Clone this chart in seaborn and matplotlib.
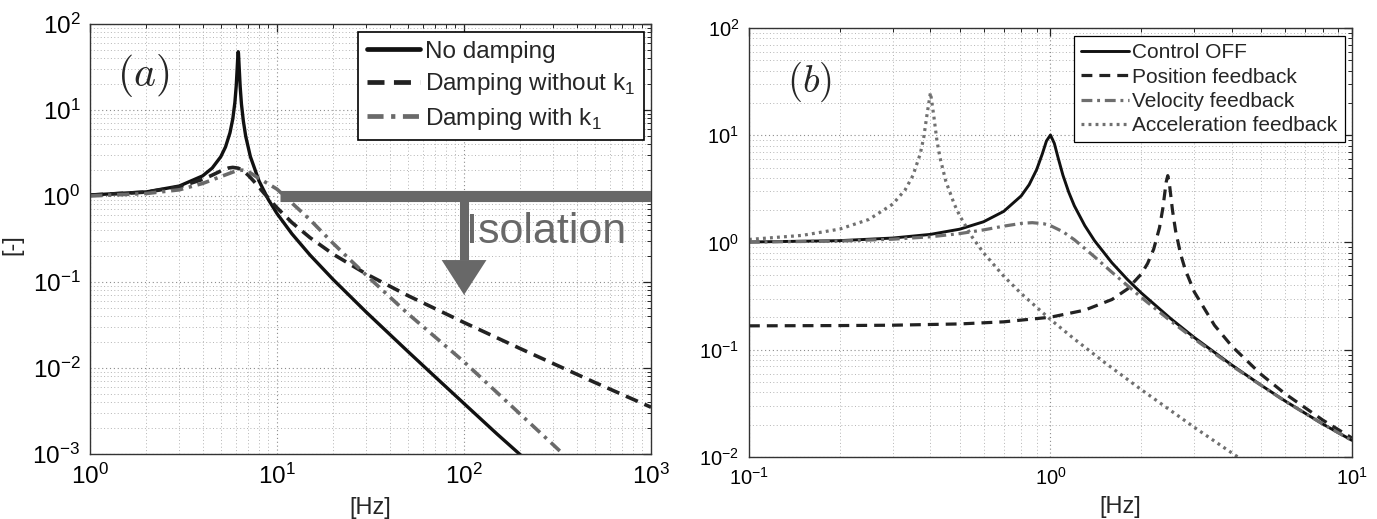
import numpy as np
import pandas as pd
import matplotlib
matplotlib.use("Agg")
import matplotlib.pyplot as plt
import seaborn as sns

# ---------------- data: panel (a) ----------------
f_nodamp = [1, 2, 3, 4, 4.5, 5, 5.3, 5.6, 5.8, 5.95, 6.05, 6.12, 6.18, 6.2, 6.22, 6.28,
            6.35, 6.45, 6.6, 6.8, 7.2, 8, 9, 10, 12, 15, 20, 30, 50, 70, 100, 150, 200, 225]
y_nodamp = [1.027, 1.116, 1.306, 1.713, 2.113, 2.86, 3.713, 5.43, 7.91, 12.27, 19.2, 30.4,
            45.7, 47.6, 45.6, 29.8, 18.7, 11.75, 7.49, 4.93, 2.87, 1.504, 0.903, 0.624, 0.364,
            0.206, 0.1063, 0.0446, 0.01562, 0.00791, 0.00386, 0.001712, 0.00098, 0.00078]

f_dnok = [1, 2, 3, 4, 4.5, 5, 5.5, 5.8, 6.2, 6.6, 7, 7.5, 8, 9, 10, 12, 15, 20, 30, 50,
          100, 200, 500, 1000]
y_dnok = [1.026, 1.11, 1.277, 1.56, 1.748, 1.953, 2.115, 2.15, 2.105, 1.955, 1.751, 1.49,
          1.265, 0.937, 0.728, 0.492, 0.328, 0.21, 0.124, 0.0696, 0.0338, 0.0168, 0.0068,
          0.0035]

f_dk1 = [1, 2, 3, 4, 5, 6, 6.5, 7, 8, 9, 10, 12, 15, 20, 25, 30, 50, 100, 200, 300, 340]
y_dk1 = [1.0, 1.07, 1.18, 1.4, 1.68, 1.95, 2.0, 1.93, 1.6, 1.38, 1.2, 0.83, 0.53, 0.28,
         0.175, 0.12, 0.043, 0.0118, 0.0029, 0.00128, 0.00099]

labels_a = ["No damping", r"Damping without k$_\mathregular{1}$", r"Damping with k$_\mathregular{1}$"]

# isolation arrow annotation
iso_bar_f = [10.4, 1000]
iso_level = 1.0
iso_stem_f = 100
iso_head_top = 0.18
iso_head_tip = 0.071
iso_head_f = [75.9, 131.8]
iso_text = "Isolation"

# ---------------- data: panel (b) ----------------
f_off = [0.1, 0.2, 0.3, 0.4, 0.5, 0.6, 0.7, 0.8, 0.85, 0.9, 0.94, 0.97, 1.0, 1.03, 1.06,
         1.1, 1.15, 1.2, 1.3, 1.4, 1.6, 1.8, 2, 2.5, 3, 4, 5, 6, 8, 10]
y_off = [1.01, 1.04, 1.10, 1.19, 1.33, 1.56, 1.95, 2.72, 3.46, 4.78, 6.71, 8.84, 10.05,
         8.40, 6.18, 4.24, 2.94, 2.2, 1.436, 1.04, 0.646, 0.452, 0.339, 0.196, 0.130,
         0.0718, 0.0466, 0.0333, 0.0203, 0.0143]

f_pos = [0.1, 0.2, 0.3, 0.5, 0.7, 1.0, 1.3, 1.6, 1.8, 2.0, 2.1, 2.2, 2.3, 2.36, 2.42, 2.45,
         2.48, 2.54, 2.6, 2.7, 2.8, 3, 3.5, 4, 5, 6, 8, 10]
y_pos = [0.167, 0.168, 0.1693, 0.174, 0.182, 0.201, 0.234, 0.294, 0.368, 0.507, 0.637,
         0.867, 1.375, 2.094, 3.656, 4.2, 3.55, 1.991, 1.29, 0.786, 0.558, 0.346, 0.169,
         0.1076, 0.0588, 0.0389, 0.0221, 0.01504]

f_vel = [0.1, 0.2, 0.3, 0.4, 0.5, 0.6, 0.7, 0.8, 0.87, 0.95, 1.0, 1.1, 1.2, 1.4, 1.6, 2,
         2.5, 3, 4, 6, 8, 10]
y_vel = [1.0076, 1.031, 1.073, 1.13, 1.21, 1.31, 1.42, 1.506, 1.53, 1.495, 1.436, 1.26,
         1.062, 0.736, 0.527, 0.308, 0.186, 0.126, 0.0706, 0.0331, 0.0203, 0.01425]

f_acc = [0.1, 0.15, 0.2, 0.25, 0.3, 0.33, 0.35, 0.37, 0.38, 0.39, 0.4, 0.41, 0.42, 0.43,
         0.45, 0.48, 0.5, 0.55, 0.6, 0.7, 0.8, 1.0, 1.2, 1.5, 2, 3, 4, 4.2]
y_acc = [1.067, 1.164, 1.333, 1.64, 2.28, 3.11, 4.22, 6.71, 9.56, 15.9, 25.0, 15.36, 9.03,
         6.2, 3.71, 2.27, 1.778, 1.123, 0.8, 0.485, 0.334, 0.1914, 0.1259, 0.0774, 0.0425,
         0.0189, 0.01088, 0.00993]

labels_b = ["Control OFF", "Position feedback", "Velocity feedback", "Acceleration feedback"]

# ---------------- style ----------------
sns.set_style("white")
plt.rcParams['font.family'] = ['Liberation Sans', 'DejaVu Sans']
plt.rcParams['mathtext.fontset'] = 'dejavusans'

fig = plt.figure(figsize=(13.77, 5.19), dpi=100)
ax_a = fig.add_axes([0.0654, 0.1252, 0.4074, 0.8286])
ax_b = fig.add_axes([0.5439, 0.1195, 0.4379, 0.8266])

gray = '#686868'

def style_axis(ax, labelsize):
    ax.set_xscale('log')
    ax.set_yscale('log')
    ax.grid(True, which='major', linestyle=(0, (1, 2.5)), color='#8c8c8c', linewidth=0.8)
    ax.grid(True, which='minor', linestyle=(0, (1, 2.5)), color='#b4b4b4', linewidth=0.7)
    ax.set_axisbelow(True)
    ax.tick_params(which='both', direction='in', top=True, right=True, colors='#222222',
                   labelsize=labelsize, labelcolor='black')
    ax.tick_params(which='major', length=6, width=0.9, pad=7)
    ax.tick_params(which='minor', length=3, width=0.7)
    for s in ax.spines.values():
        s.set_color('#333333')
        s.set_linewidth(1.0)

style_axis(ax_a, 17.5)
style_axis(ax_b, 14.5)

# ---------------- panel (a) ----------------
sns.lineplot(x=f_nodamp, y=y_nodamp, ax=ax_a, color='#111111', linewidth=2.4,
             sort=False, estimator=None, label=labels_a[0])
sns.lineplot(x=f_dnok, y=y_dnok, ax=ax_a, color='#222222', linewidth=2.6,
             linestyle=(0, (3.6, 2.0)), sort=False, estimator=None, label=labels_a[1])
sns.lineplot(x=f_dk1, y=y_dk1, ax=ax_a, color='#6a6a6a', linewidth=2.6,
             linestyle=(0, (3.4, 1.6, 0.9, 1.6)), sort=False, estimator=None, label=labels_a[2])

ax_a.plot(iso_bar_f, [iso_level, iso_level], color=gray, linewidth=8, solid_capstyle='butt',
          zorder=3)
ax_a.plot([iso_stem_f, iso_stem_f], [iso_level, iso_head_top], color=gray, linewidth=6.5,
          solid_capstyle='butt', zorder=3)
ax_a.fill([iso_head_f[0], iso_head_f[1], iso_stem_f],
          [iso_head_top, iso_head_top, iso_head_tip], color=gray, zorder=3, linewidth=0)
ax_a.text(103, 0.38, iso_text, color=gray, fontsize=31, ha='left', va='center')

ax_a.set_xlim(1, 1000)
ax_a.set_ylim(1e-3, 1e2)
ax_a.set_xlabel("[Hz]", fontsize=17)
ax_a.set_ylabel("[-]", fontsize=17)
ax_a.xaxis.set_label_coords(0.5, -0.125)
ax_a.xaxis.label.set_va('center')
ax_a.yaxis.set_label_coords(-0.139, 0.486)
ax_a.yaxis.label.set_va('center')
ax_a.text(0.094, 0.881, r"$(a)$", transform=ax_a.transAxes, fontsize=30,
          math_fontfamily='cm', ha='center', va='center')

leg_a = ax_a.legend(loc='upper right', bbox_to_anchor=(0.9875, 0.981), fontsize=17.5,
                    frameon=True, fancybox=False, edgecolor='black', framealpha=1,
                    handlelength=2.2, handletextpad=0.2, labelspacing=0.35, borderpad=0.35,
                    borderaxespad=0)
leg_a.get_frame().set_linewidth(1.2)
for ln in leg_a.get_lines():
    ln.set_linewidth(3.4)

# ---------------- panel (b) ----------------
sns.lineplot(x=f_off, y=y_off, ax=ax_b, color='#111111', linewidth=2.1,
             sort=False, estimator=None, label=labels_b[0])
sns.lineplot(x=f_pos, y=y_pos, ax=ax_b, color='#222222', linewidth=2.3,
             linestyle=(0, (3.4, 2.2)), sort=False, estimator=None, label=labels_b[1])
sns.lineplot(x=f_vel, y=y_vel, ax=ax_b, color='#6e6e6e', linewidth=2.3,
             linestyle=(0, (3.4, 1.5, 0.9, 1.5)), sort=False, estimator=None, label=labels_b[2])
sns.lineplot(x=f_acc, y=y_acc, ax=ax_b, color='#707070', linewidth=2.3,
             linestyle=(0, (0.9, 1.3)), sort=False, estimator=None, label=labels_b[3])

ax_b.set_xlim(0.1, 10)
ax_b.set_ylim(1e-2, 1e2)
ax_b.set_xlabel("[Hz]", fontsize=17)
ax_b.set_ylabel("")
ax_b.xaxis.set_label_coords(0.615, -0.117)
ax_b.xaxis.label.set_va('center')
ax_b.text(0.101, 0.874, r"$(b)$", transform=ax_b.transAxes, fontsize=28,
          math_fontfamily='cm', ha='center', va='center')

leg_b = ax_b.legend(loc='upper right', bbox_to_anchor=(0.988, 0.981), fontsize=15,
                    frameon=True, fancybox=False, edgecolor='black', framealpha=1,
                    handlelength=2.3, handletextpad=0.15, labelspacing=0.25, borderpad=0.35,
                    borderaxespad=0)
leg_b.get_frame().set_linewidth(0.9)

fig.savefig("out.png", dpi=100)
